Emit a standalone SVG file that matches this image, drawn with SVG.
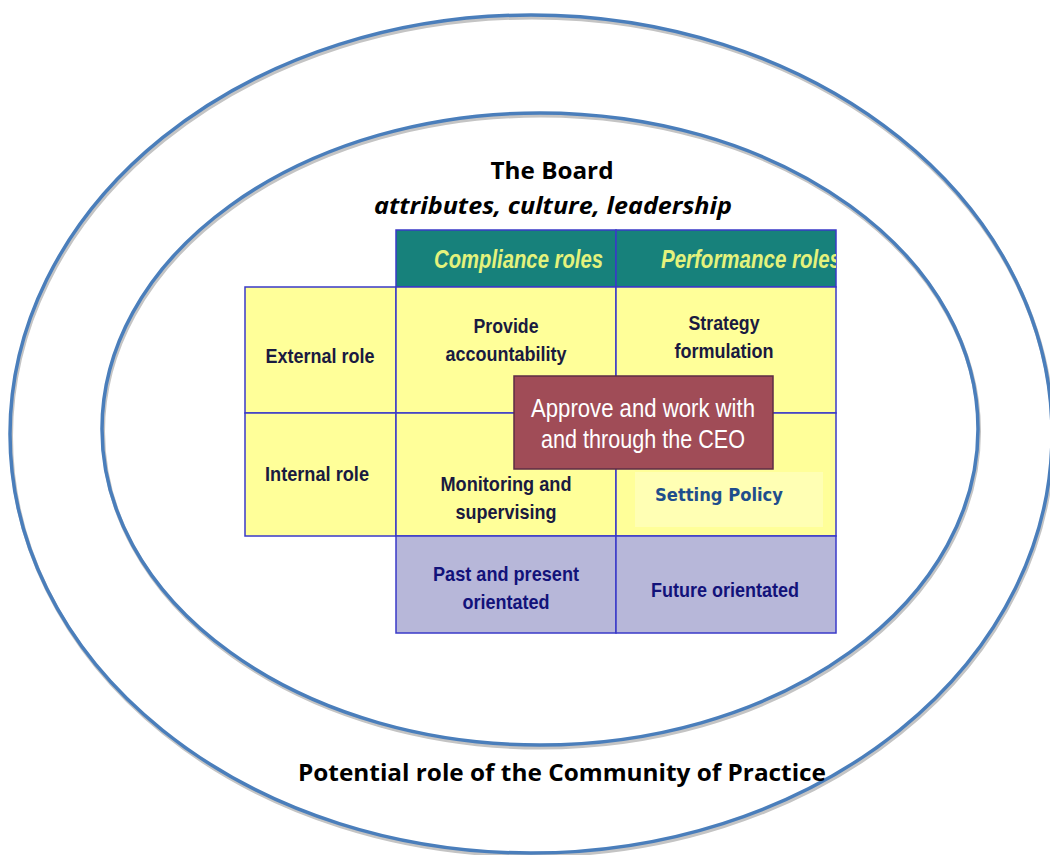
<svg xmlns="http://www.w3.org/2000/svg" width="1050" height="855" viewBox="0 0 1050 855">
<defs>
<style>
.sh{fill:none;stroke:#c4c4c4;stroke-width:4}
.ring{fill:none;stroke:#4a7ebb;stroke-width:3.5}
.ttl{font-family:"Open Sans",Lato,sans-serif;font-weight:bold;fill:#000;font-size:24px;text-anchor:middle}
.cell{stroke:#3a3ac8;stroke-width:1.5}
.yl{fill:#ffff99}
.pu{fill:#b7b7d9}
.hd{fill:#17817b}
.t{font-family:"Liberation Sans",Arial,sans-serif;font-weight:bold;font-size:21px;text-anchor:middle;fill:#1a1a40}
.tp{fill:#12127a}
.th{font-family:"Liberation Sans",Arial,sans-serif;font-style:italic;font-weight:bold;font-size:25px;fill:#e4f27c}
.tc{font-family:"Liberation Sans",Arial,sans-serif;font-size:25px;text-anchor:middle;fill:#ffffff}
</style>
<clipPath id="tblclip"><rect x="396" y="230" width="440" height="57"/></clipPath>
</defs>

<g id="outer-ellipse">
<ellipse class="sh" cx="532" cy="436.5" rx="521" ry="419"/>
<ellipse class="ring" cx="531" cy="434" rx="521" ry="419"/>
<text class="ttl" x="562" y="781" textLength="528" lengthAdjust="spacingAndGlyphs">Potential role of the Community of Practice</text>
</g>

<g id="inner-ellipse">
<ellipse class="sh" cx="541" cy="431.5" rx="438" ry="316"/>
<ellipse class="ring" cx="540" cy="429" rx="438" ry="316"/>
<text class="ttl" x="552" y="179" textLength="123" lengthAdjust="spacingAndGlyphs">The Board</text>
<text class="ttl" x="553" y="214" font-style="italic" textLength="358" lengthAdjust="spacingAndGlyphs">attributes, culture, leadership</text>
</g>

<g id="table">
<g id="header">
<rect class="hd cell" x="396" y="230" width="220" height="57"/>
<rect class="hd cell" x="616" y="230" width="220" height="57"/>
<text class="th" x="434" y="268" textLength="169" lengthAdjust="spacingAndGlyphs">Compliance roles</text>
<g clip-path="url(#tblclip)"><text class="th" x="661" y="268" textLength="180" lengthAdjust="spacingAndGlyphs">Performance roles</text></g>
</g>
<g id="row-external">
<rect class="yl cell" x="245" y="287" width="151" height="126"/>
<rect class="yl cell" x="396" y="287" width="220" height="126"/>
<rect class="yl cell" x="616" y="287" width="220" height="126"/>
<text class="t" x="320" y="363" textLength="109" lengthAdjust="spacingAndGlyphs">External role</text>
<text class="t" x="506" y="333" textLength="65" lengthAdjust="spacingAndGlyphs">Provide</text>
<text class="t" x="506" y="361" textLength="121" lengthAdjust="spacingAndGlyphs">accountability</text>
<text class="t" x="724" y="330" textLength="71" lengthAdjust="spacingAndGlyphs">Strategy</text>
<text class="t" x="724" y="358" textLength="99" lengthAdjust="spacingAndGlyphs">formulation</text>
</g>
<g id="row-internal">
<rect class="yl cell" x="245" y="413" width="151" height="123"/>
<rect class="yl cell" x="396" y="413" width="220" height="123"/>
<rect class="yl cell" x="616" y="413" width="220" height="123"/>
<text class="t" x="317" y="481" textLength="104" lengthAdjust="spacingAndGlyphs">Internal role</text>
<text class="t" x="506" y="491" textLength="131" lengthAdjust="spacingAndGlyphs">Monitoring and</text>
<text class="t" x="506" y="519" textLength="101" lengthAdjust="spacingAndGlyphs">supervising</text>
</g>
<g id="row-orientation">
<rect class="pu cell" x="396" y="536" width="220" height="97"/>
<rect class="pu cell" x="616" y="536" width="220" height="97"/>
<text class="t tp" x="506" y="581" textLength="146" lengthAdjust="spacingAndGlyphs">Past and present</text>
<text class="t tp" x="506" y="609" textLength="87" lengthAdjust="spacingAndGlyphs">orientated</text>
<text class="t tp" x="725" y="597" textLength="148" lengthAdjust="spacingAndGlyphs">Future orientated</text>
</g>
</g>

<g id="setting-policy">
<rect x="635" y="472" width="188" height="55" fill="#ffffb4"/>
<text x="719" y="501" font-family="'DejaVu Sans',Verdana,sans-serif" font-weight="bold" font-size="17.5" fill="#1f4e8c" text-anchor="middle" textLength="128" lengthAdjust="spacingAndGlyphs">Setting Policy</text>
</g>

<g id="ceo-box">
<rect x="514" y="376" width="259" height="93" fill="#a04c57" stroke="#5e2c44" stroke-width="1.5"/>
<text class="tc" x="643" y="417" textLength="224" lengthAdjust="spacingAndGlyphs">Approve and work with</text>
<text class="tc" x="643" y="448" textLength="204" lengthAdjust="spacingAndGlyphs">and through the CEO</text>
</g>

<g id="connectors"></g>
</svg>
